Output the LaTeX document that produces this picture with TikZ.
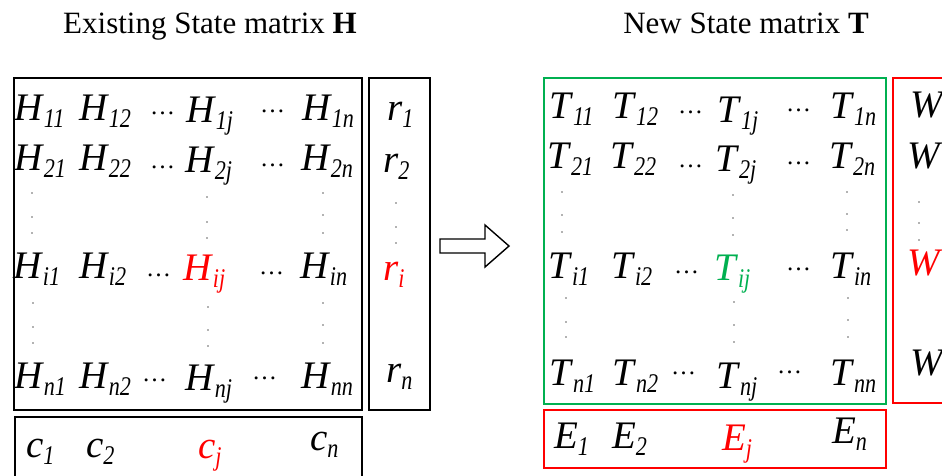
\documentclass[tikz,border=0pt]{standalone}
\usepackage{fontspec}
\setmainfont{Liberation Serif}[ItalicFont=Liberation Serif Italic,BoldFont=Liberation Serif Bold]
\definecolor{wgreen}{RGB}{0,176,80}
\definecolor{wred}{RGB}{255,0,0}
\newcommand{\mEl}[2]{\fontsize{39}{39}\selectfont\textit{#1}\raisebox{-7pt}{\scalebox{0.82}[1]{\fontsize{27}{27}\selectfont\textit{#2}}}}
\newcommand{\myhd}{\fontsize{25}{25}\selectfont …}
\begin{document}
\begin{tikzpicture}[x=1pt,y=-1pt,
  el/.style={anchor=base west,inner sep=0pt,outer sep=0pt},
  hd/.style={anchor=base west,inner sep=0pt,outer sep=0pt},
  ttl/.style={anchor=base,inner sep=0pt,font=\fontsize{31}{31}\selectfont},
  bbox/.style={draw=black,line width=1.4pt},
  gbox/.style={draw=wgreen,line width=2.4pt},
  rbox/.style={draw=wred,line width=1.4pt},
  vdot/.style={fill=black!60}]
\useasboundingbox (0,0) rectangle (942,475);
\clip (0,0) rectangle (942,475);
% titles
\node[ttl] (t1) at (210,33) {Existing State matrix \textbf{H}};
\node[ttl] (t2) at (746,33) {New State matrix \textbf{T}};
% boxes
\draw[bbox] (14,78) rectangle (362,410);
\draw[bbox] (369,78) rectangle (430,410);
\draw[bbox] (15,417) rectangle (362,490);
\draw[gbox] (544,78) rectangle (886,404);
\draw[rbox] (893,78) rectangle (960,403);
\draw[rbox] (544,410) rectangle (886,468);
% arrow
\draw[line width=1.4pt,line join=miter] (440,239) -- (485,239) -- (485,225) -- (509,246) -- (485,267) -- (485,253) -- (440,253) -- cycle;
% H matrix
\node[el] (h11) at (14,120) {\mEl{H}{11}};
\node[el] (h12) at (79,120) {\mEl{H}{12}};
\node[hd] (hd1a) at (150,114) {\myhd};
\node[el] (h1j) at (186,122) {\mEl{H}{1j}};
\node[hd] (hd1b) at (260,112) {\myhd};
\node[el] (h1n) at (302,120) {\mEl{H}{1n}};
\node[el] (h21) at (14,170) {\mEl{H}{21}};
\node[el] (h22) at (79,170) {\mEl{H}{22}};
\node[hd] (hd2a) at (150,168) {\myhd};
\node[el] (h2j) at (185,172) {\mEl{H}{2j}};
\node[hd] (hd2b) at (260,166) {\myhd};
\node[el] (h2n) at (301,170) {\mEl{H}{2n}};
\node[el] (hi1) at (13,278) {\mEl{H}{i1}};
\node[el] (hi2) at (79,278) {\mEl{H}{i2}};
\node[hd] (hdia) at (146,276) {\myhd};
\node[el,text=wred] (hij) at (183,280) {\mEl{H}{ij}};
\node[hd] (hdib) at (259,274) {\myhd};
\node[el] (hin) at (300,278) {\mEl{H}{in}};
\node[el] (hn1) at (14,388) {\mEl{H}{n1}};
\node[el] (hn2) at (79,388) {\mEl{H}{n2}};
\node[hd] (hdna) at (142,381) {\myhd};
\node[el] (hnj) at (185,390) {\mEl{H}{nj}};
\node[hd] (hdnb) at (252,379) {\myhd};
\node[el] (hnn) at (301,388) {\mEl{H}{nn}};
% r column
\node[el] (r1) at (387,120) {\mEl{r}{1}};
\node[el] (r2) at (383,172) {\mEl{r}{2}};
\node[el,text=wred] (ri) at (383,280) {\mEl{r}{i}};
\node[el] (rn) at (386,382) {\mEl{r}{n}};
% c row
\node[el] (c1) at (26,457) {\mEl{c}{1}};
\node[el] (c2) at (86,457) {\mEl{c}{2}};
\node[el,text=wred] (cj) at (198,458) {\mEl{c}{j}};
\node[el] (cn) at (310,450) {\mEl{c}{n}};
% T matrix
\node[el] (t11) at (549,118) {\mEl{T}{11}};
\node[el] (t12) at (612,118) {\mEl{T}{12}};
\node[hd] (td1a) at (678,113) {\myhd};
\node[el] (t1j) at (717,122) {\mEl{T}{1j}};
\node[hd] (td1b) at (786,111) {\myhd};
\node[el] (t1n) at (830,118) {\mEl{T}{1n}};
\node[el] (t21) at (547,168) {\mEl{T}{21}};
\node[el] (t22) at (610,168) {\mEl{T}{22}};
\node[hd] (td2a) at (678,167) {\myhd};
\node[el] (t2j) at (715,171) {\mEl{T}{2j}};
\node[hd] (td2b) at (786,164) {\myhd};
\node[el] (t2n) at (829,168) {\mEl{T}{2n}};
\node[el] (ti1) at (548,278) {\mEl{T}{i1}};
\node[el] (ti2) at (611,278) {\mEl{T}{i2}};
\node[hd] (tdia) at (674,273) {\myhd};
\node[el,text=wgreen] (tij) at (714,280) {\mEl{T}{ij}};
\node[hd] (tdib) at (786,270) {\myhd};
\node[el] (tin) at (830,278) {\mEl{T}{in}};
\node[el] (tn1) at (549,385) {\mEl{T}{n1}};
\node[el] (tn2) at (612,385) {\mEl{T}{n2}};
\node[hd] (tdna) at (671,374) {\myhd};
\node[el] (tnj) at (716,388) {\mEl{T}{nj}};
\node[hd] (tdnb) at (777,373) {\myhd};
\node[el] (tnn) at (830,385) {\mEl{T}{nn}};
% W column
\node[el] (w1) at (910,117) {\mEl{W}{1}};
\node[el] (w2) at (907,168) {\mEl{W}{2}};
\node[el,text=wred] (wi) at (907,275) {\mEl{W}{i}};
\node[el] (wn) at (910,375) {\mEl{W}{n}};
% E row
\node[el] (e1) at (554,448) {\mEl{E}{1}};
\node[el] (e2) at (612,448) {\mEl{E}{2}};
\node[el,text=wred] (ej) at (722,450) {\mEl{E}{j}};
\node[el] (en) at (832,443) {\mEl{E}{n}};
% vertical dots
\foreach \x/\y in {32/193,32/217,32/233, 207/197,207/222,207/238, 323/193,323/215,323/233,
  33/303,33/327,33/343, 208/307,208/330,208/346, 323/303,323/325,323/343,
  396/203,396/227,396/243,
  562/192,562/215,562/232, 733/195,733/218,733/235, 847/192,847/214,847/230,
  566/298,566/322,566/337, 734/302,734/325,734/342, 848/298,848/320,848/337,
  919/202,919/223,919/240}
  \fill[vdot] (\x,\y) circle (0.9);
\end{tikzpicture}
\end{document}
